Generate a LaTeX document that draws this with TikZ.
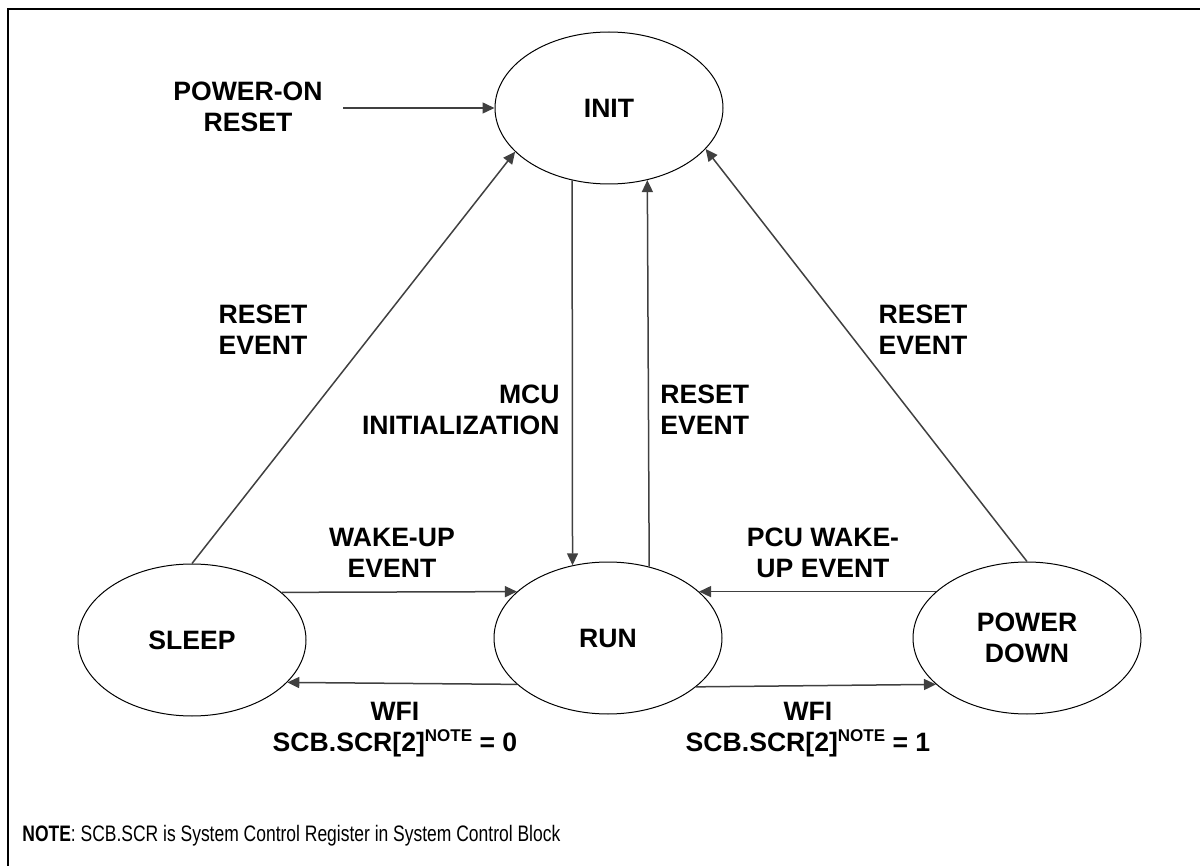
\documentclass[tikz,border=0pt]{standalone}
\usepackage{fontspec}
\setmainfont{Liberation Sans}
\newfontfamily\notefont{Liberation Sans}[FakeStretch=0.78]
\usetikzlibrary{shapes.geometric}
\usetikzlibrary{arrows.meta}

\newcommand{\supnote}{\raisebox{5pt}{\fontsize{8.5}{8.5}\selectfont NOTE}}

\begin{document}
\begin{tikzpicture}[x=0.5pt,y=-0.5pt,
  state/.style={draw,line width=0.5pt,ellipse,minimum width=114pt,minimum height=76pt,inner sep=0pt,align=center,font=\fontsize{13.3}{15.5}\selectfont\bfseries},
  lbl/.style={inner sep=0pt,align=center,font=\fontsize{13.3}{15.5}\selectfont\bfseries},
  trans/.style={draw=black!75,line width=0.75pt,-{Triangle[length=6pt,width=5.5pt]}}]
%\draw[help lines] (0,0) grid[step=100] (1200,866);
\useasboundingbox (0,0) rectangle (1200,866);
\draw[line width=1.1pt] (8,866) -- (8,9) -- (1200,9);

\node[state] (init) at (609,108) {INIT};
\node[state] (sleep) at (192,640) {SLEEP};
\node[state] (run) at (608,638) {RUN};
\node[state] (pdown) at (1027,638) {POWER\\DOWN};

\coordinate (por) at (343,108);
\node[lbl] (porlbl) at (248,107) {POWER-ON\\RESET};
\draw[trans] (por) -- (init.west);

\draw[trans] (sleep.north) -- (init.205);
\node[lbl] (rst1) at (263,330) {RESET\\EVENT};
\draw[trans] (pdown.north) -- (init.-23);
\node[lbl] (rst3) at (923,330) {RESET\\EVENT};

\draw[trans] (init.-117) -- (run.116);
\node[lbl,align=right,anchor=east] (mcu) at (560,410) {MCU\\INITIALIZATION};
\draw[trans] (run.60) -- (init.-62);
\node[lbl,align=left,anchor=west] (rst2) at (660,410) {RESET\\EVENT};

\draw[trans] (sleep.28) -- (run.153);
\node[lbl] (wake) at (392,553) {WAKE-UP\\EVENT};
\draw[trans] (pdown.153) -- (run.27);
\node[lbl] (pcu) at (823,553) {PCU WAKE-\\UP EVENT};

\draw[trans] (run.-153) -- (sleep.-24);
\node[lbl] (wfi0) at (395,730) {WFI\\SCB.SCR[2]\supnote{} = 0};
\draw[trans] (run.-29) -- (pdown.-153);
\node[lbl] (wfi1) at (808,730) {WFI\\SCB.SCR[2]\supnote{} = 1};

\node[inner sep=0pt,anchor=west,font=\fontsize{11.2}{13}\notefont] (note) at (22,836) {\textbf{NOTE}: SCB.SCR is System Control Register in System Control Block};
\end{tikzpicture}
\end{document}
